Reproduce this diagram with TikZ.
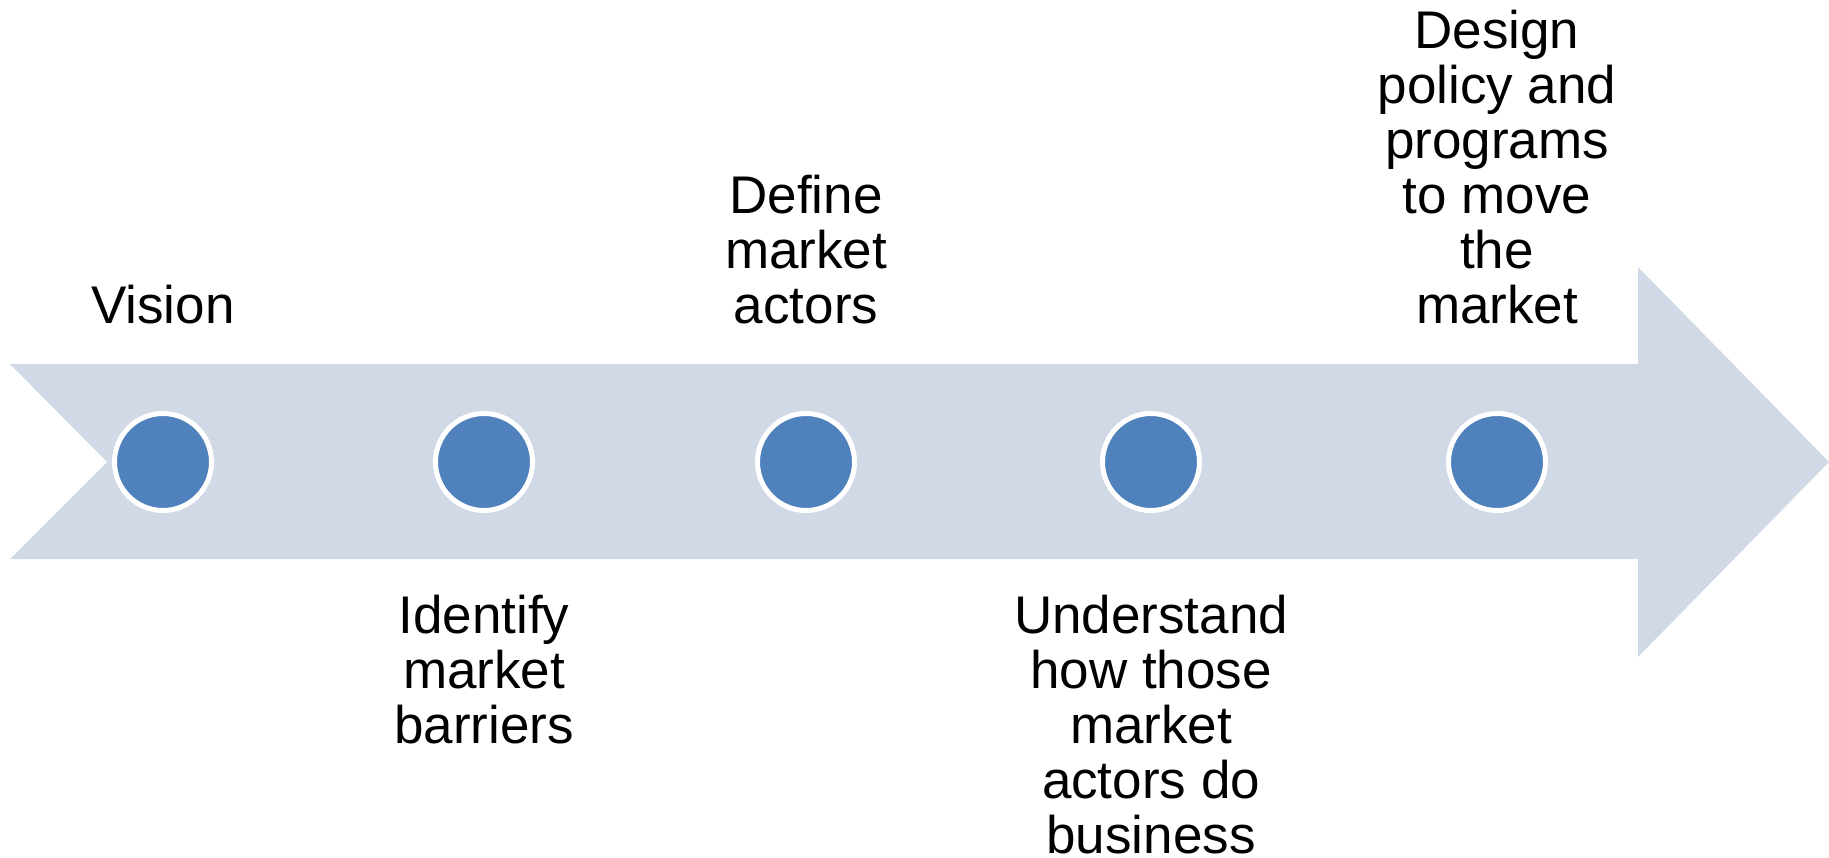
\documentclass[tikz,border=0pt]{standalone}
\usepackage{fontspec}
\setmainfont{Liberation Sans}
\definecolor{arrowfill}{RGB}{209,217,231}
\definecolor{dotblue}{RGB}{79,129,189}
\begin{document}
\begin{tikzpicture}[x=1pt,y=-1pt,
  dot/.style={circle,fill=dotblue,draw=white,line width=5pt,minimum size=97pt,inner sep=0pt},
  lbl/.style={align=center,inner sep=0pt,font=\fontsize{53}{55}\selectfont},
  above lbl/.style={lbl,anchor=south},
  below lbl/.style={lbl,anchor=north}]
\useasboundingbox (0,0) rectangle (1829,858);
% chevron-tailed arrow
\fill[arrowfill] (10,364) -- (1638,364) -- (1638,267) -- (1829,462)
  -- (1638,657) -- (1638,559) -- (10,559) -- (107,462) -- cycle;
% milestones
\node[dot] (c1) at (163,462) {};
\node[dot] (c2) at (484,462) {};
\node[dot] (c3) at (806,462) {};
\node[dot] (c4) at (1151,462) {};
\node[dot] (c5) at (1497,462) {};
% labels
\node[above lbl] (l1) at (163,324) {Vision};
\node[below lbl] (l2) at (484,595) {Identify\\market\\barriers};
\node[above lbl] (l3) at (806,324) {Define\\market\\actors};
\node[below lbl] (l4) at (1151,595) {Understand\\how those\\market\\actors do\\business};
\node[above lbl] (l5) at (1497,324) {Design\\policy and\\programs\\to move\\the\\market};
\end{tikzpicture}
\end{document}
